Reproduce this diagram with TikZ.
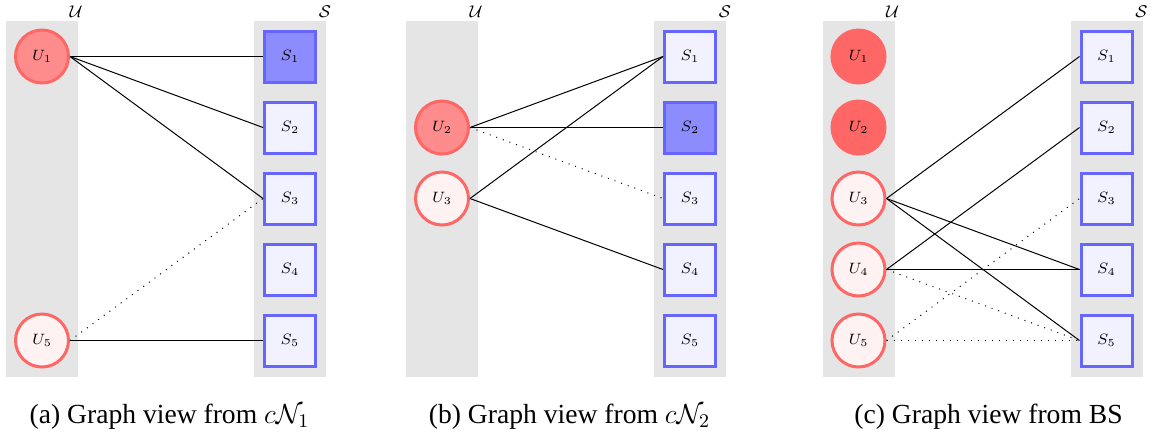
\RequirePackage{fix-cm}
\documentclass[tikz,border=0pt]{standalone}
\usepackage{fontspec}
\setmainfont{Liberation Serif}
\begin{document}
\begin{tikzpicture}[x=0.5pt,y=-0.5pt]
\tikzset{
 strip/.style={fill=gray!20, draw=none},
 unode/.style={circle, draw=red!60, line width=1.5pt, minimum size=26.5pt, inner sep=0pt, font=\fontsize{7.5}{9}\selectfont},
 uact/.style={unode, fill=red!45},
 uidle/.style={unode, fill=red!5},
 uoff/.style={unode, fill=red!60},
 snode/.style={rectangle, draw=blue!60, line width=1.5pt, minimum size=25.5pt, inner sep=0pt, font=\fontsize{7.5}{9}\selectfont},
 sact/.style={snode, fill=blue!45},
 sidle/.style={snode, fill=blue!5},
 link/.style={draw=black, line width=0.5pt},
 weak/.style={draw=black, line width=0.5pt, dash pattern=on 0.5pt off 3pt},
 setlbl/.style={font=\fontsize{8.5}{10}\selectfont, inner sep=0pt},
 captxt/.style={font=\fontsize{13.8}{16}\selectfont, inner sep=0pt, anchor=base},
}
\useasboundingbox (0,0) rectangle (1153,436);
% ---------- panel (a)
\begin{scope}
\fill[strip] (6,21) rectangle (78,377);
\fill[strip] (254,21) rectangle (326,377);
\node[setlbl] (aUl) at (76,12) {$\mathcal{U}$};
\node[setlbl] (aSl) at (325,12) {$\mathcal{S}$};
\node[uact] (aU1) at (42,56.5) {$U_1$};
\node[uidle] (aU5) at (42,340.5) {$U_5$};
\node[sact] (aS1) at (290,56.5) {$S_1$};
\node[sidle] (aS2) at (290,127.5) {$S_2$};
\node[sidle] (aS3) at (290,198.5) {$S_3$};
\node[sidle] (aS4) at (290,269.5) {$S_4$};
\node[sidle] (aS5) at (290,340.5) {$S_5$};
\draw[link] (aU1.east) -- (aS1.west);
\draw[link] (aU1.east) -- (aS2.west);
\draw[link] (aU1.east) -- (aS3.west);
\draw[weak] (aU5.east) -- (aS3.west);
\draw[link] (aU5.east) -- (aS5.west);
\node[captxt] (acap) at (169.5,423) {(a) Graph view from $c\mathcal{N}_1$};
\end{scope}
% ---------- panel (b)
\begin{scope}[shift={(400,0)}]
\fill[strip] (6,21) rectangle (78,377);
\fill[strip] (254,21) rectangle (326,377);
\node[setlbl] (bUl) at (76,12) {$\mathcal{U}$};
\node[setlbl] (bSl) at (325,12) {$\mathcal{S}$};
\node[uact] (bU2) at (42,127.5) {$U_2$};
\node[uidle] (bU3) at (42,198.5) {$U_3$};
\node[sidle] (bS1) at (290,56.5) {$S_1$};
\node[sact] (bS2) at (290,127.5) {$S_2$};
\node[sidle] (bS3) at (290,198.5) {$S_3$};
\node[sidle] (bS4) at (290,269.5) {$S_4$};
\node[sidle] (bS5) at (290,340.5) {$S_5$};
\draw[link] (bU2.east) -- (bS1.west);
\draw[link] (bU2.east) -- (bS2.west);
\draw[weak] (bU2.east) -- (bS3.west);
\draw[link] (bU3.east) -- (bS1.west);
\draw[link] (bU3.east) -- (bS4.west);
\node[captxt] (bcap) at (169.5,423) {(b) Graph view from $c\mathcal{N}_2$};
\end{scope}
% ---------- panel (c)
\begin{scope}[shift={(816.5,0)}]
\fill[strip] (6,21) rectangle (78,377);
\fill[strip] (254,21) rectangle (326,377);
\node[setlbl] (cUl) at (76,12) {$\mathcal{U}$};
\node[setlbl] (cSl) at (325,12) {$\mathcal{S}$};
\node[uoff] (cU1) at (42,56.5) {$U_1$};
\node[uoff] (cU2) at (42,127.5) {$U_2$};
\node[uidle] (cU3) at (42,198.5) {$U_3$};
\node[uidle] (cU4) at (42,269.5) {$U_4$};
\node[uidle] (cU5) at (42,340.5) {$U_5$};
\node[sidle] (cS1) at (290,56.5) {$S_1$};
\node[sidle] (cS2) at (290,127.5) {$S_2$};
\node[sidle] (cS3) at (290,198.5) {$S_3$};
\node[sidle] (cS4) at (290,269.5) {$S_4$};
\node[sidle] (cS5) at (290,340.5) {$S_5$};
\draw[link] (cU3.east) -- (cS1.west);
\draw[link] (cU3.east) -- (cS4.west);
\draw[link] (cU3.east) -- (cS5.west);
\draw[link] (cU4.east) -- (cS2.west);
\draw[link] (cU4.east) -- (cS4.west);
\draw[weak] (cU4.east) -- (cS5.west);
\draw[weak] (cU5.east) -- (cS3.west);
\draw[weak] (cU5.east) -- (cS5.west);
\node[captxt] (ccap) at (172,423) {(c) Graph view from BS};
\end{scope}
\end{tikzpicture}
\end{document}
